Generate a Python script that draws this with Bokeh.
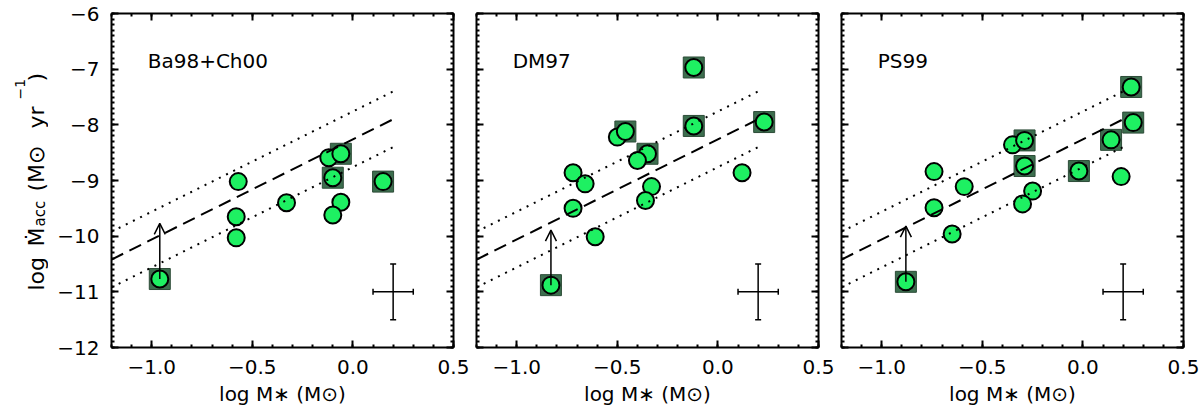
import numpy as np
from bokeh.core.properties import value
from bokeh.embed import file_html
from bokeh.layouts import row
from bokeh.models import (Arrow, ColumnDataSource, FixedTicker, LinearAxis,
                          OpenHead, TeeHead, Whisker)
from bokeh.plotting import figure
from bokeh.resources import INLINE

FONT = "DejaVu Sans"
GREEN = "#1ef062"
SQ_FILL = "#3c6e4e"
H = 414
TOP = 13
BOTTOM = 67

# --- data ---
panel_names = ["Ba98+Ch00", "DM97", "PS99"]

ba_x = [-0.96, -0.57, -0.58, -0.58, -0.33, -0.12, -0.06, -0.10, -0.06, -0.10, 0.15]
ba_y = [-10.77, -9.02, -9.65, -10.03, -9.40, -8.59, -8.52, -8.95, -9.39, -9.62, -9.02]
ba_sq = [1, 0, 0, 0, 0, 0, 1, 1, 0, 0, 1]

dm_x = [-0.83, -0.72, -0.66, -0.72, -0.61, -0.50, -0.46, -0.35, -0.40, -0.33, -0.36,
        -0.12, -0.12, 0.23, 0.12]
dm_y = [-10.88, -8.86, -9.06, -9.50, -10.01, -8.22, -8.12, -8.52, -8.64, -9.11, -9.36,
        -6.97, -8.02, -7.95, -8.86]
dm_sq = [1, 0, 0, 0, 0, 0, 1, 1, 0, 0, 0, 1, 1, 1, 0]

ps_x = [-0.88, -0.74, -0.74, -0.59, -0.65, -0.35, -0.29, -0.29, -0.25, -0.30, -0.02,
        0.14, 0.19, 0.24, 0.25]
ps_y = [-10.82, -8.84, -9.49, -9.11, -9.96, -8.36, -8.28, -8.74, -9.19, -9.42, -8.83,
        -8.27, -8.93, -7.32, -7.96]
ps_sq = [1, 0, 0, 0, 0, 0, 1, 1, 0, 0, 1, 1, 0, 1, 1]

# lower limits (arrows) start at the first point of each panel
arrow_top = [-9.77, -9.89, -9.82]

# fit line and its +-scatter
fit_x = [-1.2, 0.2]
fit_mid = [-10.42, -7.90]
fit_hi = [-9.92, -7.40]
fit_lo = [-10.92, -8.40]

# typical error bar
err_x = [0.2]
err_y = [-11.0]
err_xlo = [0.1]
err_xhi = [0.3]
err_ylo = [-11.5]
err_yhi = [-10.5]

label_x = [-1.02]
label_y = [-6.86]

x_ticks = [-1.0, -0.5, 0.0, 0.5]
x_tick_labels = ["\u22121.0", "\u22120.5", "0.0", "0.5"]
y_ticks = [-12, -11, -10, -9, -8, -7, -6]
y_tick_labels = ["\u221212", "\u221211", "\u221210", "\u22129", "\u22128", "\u22127", "\u22126"]

x_minor = list(np.round(np.arange(-1.2, 0.501, 0.1), 2))
y_minor = list(np.round(np.arange(-12, -5.99, 0.1), 2))

# y axis title, in pieces for the sub/superscripts (pixels inside the strip frame,
# measured up from the frame bottom)
ytitle_text = ["log", "\u1e40", "acc", "(M\u2299", "yr", "\u22121", ")"]
ytitle_x = [36, 36, 39, 36, 36, 19, 36]
ytitle_y = [57, 101, 121, 156, 219, 248, 266]
ytitle_size = ["22px", "22px", "15px", "22px", "22px", "14px", "22px"]


def style_axis(ax, ticks, minor, labels, show_labels):
    ax.ticker = FixedTicker(ticks=ticks, minor_ticks=minor)
    ax.axis_line_width = 2
    ax.axis_line_color = "black"
    ax.major_tick_in = 7
    ax.major_tick_out = 0
    ax.minor_tick_in = 3
    ax.minor_tick_out = 0
    ax.major_tick_line_width = 2
    ax.minor_tick_line_width = 2
    ax.major_label_text_font = FONT
    ax.axis_label_text_font = FONT
    ax.axis_label_text_font_size = "20px"
    ax.axis_label_text_font_style = "normal"
    ax.axis_label_text_color = "black"
    if show_labels:
        ax.major_label_overrides = dict(zip(ticks, labels))
        ax.major_label_text_font_size = "20px"
        ax.major_label_text_color = "black"
        ax.major_label_standoff = 12
    else:
        # ticks only, no labels drawn and no room kept for them
        ax.major_label_text_font_size = "0px"
        ax.major_label_text_color = None
        ax.major_label_standoff = 0


def make_panel(i, xs, ys, sq):
    first = i == 0
    left = 63 if first else 7
    p = figure(width=left + 342 + 16, height=H, x_range=(-1.2, 0.5), y_range=(-12, -6),
               output_backend="svg", toolbar_location=None,
               min_border_left=left, min_border_right=16, min_border_top=TOP,
               min_border_bottom=BOTTOM, x_axis_label="log M\u2217 (M\u2299)")
    p.grid.visible = False
    p.outline_line_color = None
    p.add_layout(LinearAxis(), "above")
    p.add_layout(LinearAxis(), "right")

    for k, ax in enumerate(p.below + p.above):
        style_axis(ax, x_ticks, x_minor, x_tick_labels, k == 0)
    for k, ax in enumerate(p.left + p.right):
        style_axis(ax, y_ticks, y_minor, y_tick_labels, first and k == 0)
    p.xaxis[0].axis_label_standoff = 8

    # points: grey squares behind, green circles on top
    p.scatter([x for x, s in zip(xs, sq) if s], [y for y, s in zip(ys, sq) if s],
              marker="square", size=21, fill_color=SQ_FILL, line_color="#2d4c38", line_width=1)
    p.scatter(xs, ys, marker="circle", size=17, fill_color=GREEN, line_color="black", line_width=2)

    # relation and scatter
    p.line(fit_x, fit_mid, line_color="black", line_width=2, line_dash="13 7")
    p.line(fit_x, fit_hi, line_color="black", line_width=2, line_dash="2 6")
    p.line(fit_x, fit_lo, line_color="black", line_width=2, line_dash="2 6")

    # lower limit arrow
    p.add_layout(Arrow(end=OpenHead(size=11, line_width=1.5, line_color="black"),
                       x_start=xs[0], y_start=ys[0], x_end=xs[0], y_end=arrow_top[i],
                       line_width=1.5, line_color="black"))

    # typical error bars
    err = ColumnDataSource(dict(x=err_x, y=err_y, xlo=err_xlo, xhi=err_xhi,
                                ylo=err_ylo, yhi=err_yhi))
    p.add_layout(Whisker(source=err, base="x", lower="ylo", upper="yhi", dimension="height",
                         line_width=1.5, line_color="black",
                         upper_head=TeeHead(size=6, line_width=1.5),
                         lower_head=TeeHead(size=6, line_width=1.5)))
    p.add_layout(Whisker(source=err, base="y", lower="xlo", upper="xhi", dimension="width",
                         line_width=1.5, line_color="black",
                         upper_head=TeeHead(size=6, line_width=1.5),
                         lower_head=TeeHead(size=6, line_width=1.5)))

    p.text(label_x, label_y, text=[panel_names[i]], text_font=value(FONT),
           text_font_size=value("20px"), text_baseline="middle", text_align="left",
           text_color="black")
    return p


# narrow strip that carries the y axis title; its frame lines up with the panels
strip = figure(width=48, height=H, x_range=(0, 48), y_range=(0, H - TOP - BOTTOM),
               min_border_left=0, min_border_right=0, min_border_top=TOP,
               min_border_bottom=BOTTOM, x_axis_location=None, y_axis_location=None,
               output_backend="svg", toolbar_location=None)
strip.grid.visible = False
strip.outline_line_color = None
strip.text(x="x", y="y", text="t", text_font_size="s",
           source=ColumnDataSource(dict(x=ytitle_x, y=ytitle_y, t=ytitle_text, s=ytitle_size)),
           angle=np.pi / 2, text_font=value(FONT), text_align="left",
           text_baseline="alphabetic", text_color="black")

panels = [make_panel(0, ba_x, ba_y, ba_sq),
          make_panel(1, dm_x, dm_y, dm_sq),
          make_panel(2, ps_x, ps_y, ps_sq)]

layout = row(strip, *panels)
open("out.html", "w").write(file_html(layout, INLINE))
